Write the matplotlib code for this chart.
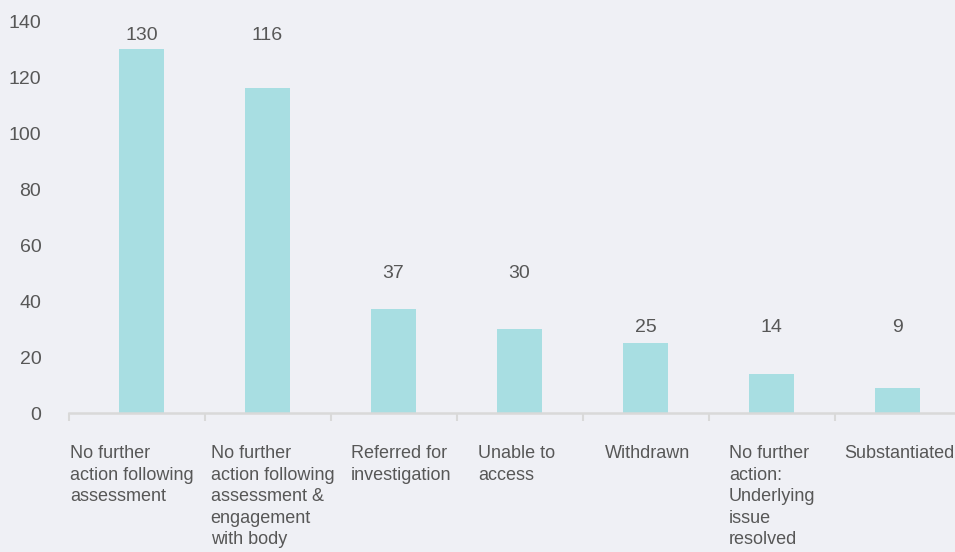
import matplotlib

matplotlib.use("Agg")

import matplotlib.pyplot as plt

categories = [
    "No further\naction following\nassessment",
    "No further\naction following\nassessment &\nengagement\nwith body",
    "Referred for\ninvestigation",
    "Unable to\naccess",
    "Withdrawn",
    "No further\naction:\nUnderlying\nissue\nresolved",
    "Substantiated",
]
counts = [130, 116, 37, 30, 25, 14, 9]

# where the count labels sit (data units) and where each category label starts
count_label_y = [135, 135, 50, 50, 30.5, 30.5, 30.5]
category_label_left = [-0.568, 0.549, 1.663, 2.671, 3.679, 4.663, 5.575]

BG = "#eff0f5"
BAR = "#a8dee2"
TEXT = "#575757"
AXIS = "#d9d9d9"

plt.rcParams["font.family"] = ["Liberation Sans", "DejaVu Sans"]

fig = plt.figure(figsize=(9.55, 5.52), dpi=100)
fig.patch.set_facecolor(BG)
ax = fig.add_axes([0.0723, 0.2518, 0.9277, 0.710])
ax.set_facecolor(BG)

xs = list(range(len(counts)))
ax.bar(xs, counts, width=0.357, color=BAR, edgecolor="none")

left_edge = -0.575
ax.set_xlim(left_edge, 6.456)
ax.set_ylim(0, 140)
ax.set_yticks(range(0, 141, 20))
ax.tick_params(axis="y", length=0, labelsize=14, labelcolor=TEXT, pad=20)

boundaries = [left_edge] + [i + 0.5 for i in range(len(counts) - 1)]
ax.set_xticks(boundaries)
ax.set_xticklabels([])
ax.tick_params(axis="x", length=6, width=1.5, color=AXIS)

for side in ["top", "right", "left"]:
    ax.spines[side].set_visible(False)
ax.spines["bottom"].set_color(AXIS)
ax.spines["bottom"].set_linewidth(1.8)

for x, value, y in zip(xs, counts, count_label_y):
    ax.text(x, y, f"{value}", ha="center", va="center", fontsize=14,
            color=TEXT, clip_on=False)

for left, label in zip(category_label_left, categories):
    ax.text(left, -0.082, label, transform=ax.get_xaxis_transform(),
            ha="left", va="top", fontsize=13, color=TEXT, linespacing=1.35,
            clip_on=False)

fig.savefig("out.png", dpi=100, facecolor=fig.get_facecolor())
